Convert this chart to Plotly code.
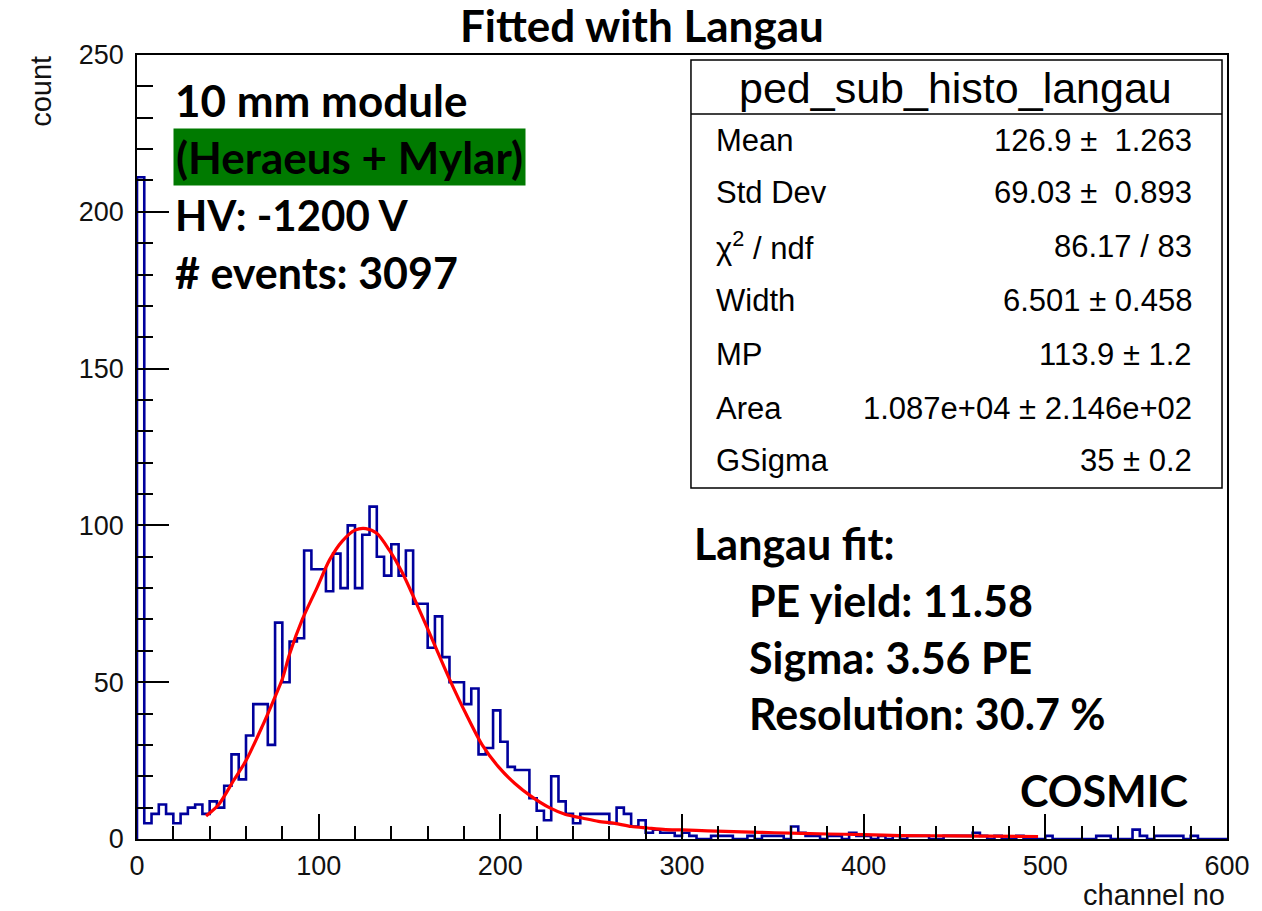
import numpy as np
import plotly.graph_objects as go

# ---------------- data ----------------
bin_width = 4
counts = [
    211, 5, 8, 11, 8, 5, 8, 10, 11, 8,
    12, 10, 17, 27, 19, 33, 43, 43, 30, 69,
    50, 63, 64, 92, 86, 86, 79, 91, 80, 100,
    80, 97, 106, 90, 84, 94, 84, 92, 75, 75,
    61, 71, 58, 50, 50, 43, 48, 27, 29, 41,
    31, 23, 22, 22, 13, 9, 6, 20, 12, 8,
    5, 8, 8, 8, 8, 5, 10, 8, 4, 6,
    2, 3, 2, 2, 1, 2, 1, 0, 0, 1,
    1, 1, 0, 0, 1, 0, 1, 1, 1, 0,
    4, 2, 1, 1, 0, 1, 1, 0, 2, 1,
    1, 0, 1, 0, 1, 0, 1, 1, 1, 0,
    0, 1, 1, 1, 1, 2, 1, 0, 1, 0,
    0, 1, 0, 0, 0, 1, 0, 0, 0, 0,
    0, 0, 1, 1, 0, 0, 0, 3, 1, 0,
    1, 1, 1, 1, 0, 1, 0, 0, 0, 0,
]

fit_x = [38, 45, 53, 60, 69, 75, 80, 84, 91, 99, 106, 113, 120, 126, 132, 139,
         146, 152, 160, 172, 181, 190, 199, 208, 217, 227, 236, 245, 254, 263,
         272, 281, 291, 300, 314, 333, 351, 380, 400, 420, 450, 496]
fit_y = [7.3, 11, 18.5, 25, 36, 44, 51, 59, 70, 80, 89, 95, 98.5, 99, 97.5, 92,
         85, 77.5, 67, 51, 40, 30, 23, 17.7, 13.6, 10, 7.8, 6.7, 5.6, 5,
         4, 3.5, 3, 2.9, 2.6, 2.3, 2, 1.6, 1.4, 1.1, 1.0, 0.8]

stats_title = "ped_sub_histo_langau"
stats_names = ["Mean", "Std Dev", "\u03c7<sup>2</sup> / ndf", "Width", "MP", "Area", "GSigma"]
stats_values = ["126.9 \u00b1\u00a0 1.263", "69.03 \u00b1\u00a0 0.893", "86.17 / 83",
                "6.501 \u00b1 0.458", "113.9 \u00b1 1.2", "1.087e+04 \u00b1 2.146e+02",
                "35 \u00b1 0.2"]

left_notes = ["10 mm module", "(Heraeus + Mylar)", "HV: -1200 V", "# events: 3097"]
fit_notes_head = "Langau fit:"
fit_notes = ["PE yield: 11.58", "Sigma: 3.56 PE", "Resolution: 30.7 %"]

# ---------------- geometry helpers (pixels -> paper) ----------------
W, H = 1262, 911
L, R, T, B = 137, 1231, 55, 839


def px(x):
    return (x - L) / (R - L)


def py(y):
    return (B - y) / (B - T)


n = len(counts)
edges = np.arange(n + 1) * bin_width
hx = np.concatenate([[0], edges])
hy = np.concatenate([[0], counts, [0]])

fig = go.Figure()
fig.add_trace(go.Scatter(x=hx, y=hy, mode="lines", line=dict(color="#00009c", width=2.6, shape="hv"),
                         showlegend=False, hoverinfo="skip"))
fig.add_trace(go.Scatter(x=fit_x, y=fit_y, mode="lines",
                         line=dict(color="#ff0000", width=3.2, shape="spline", smoothing=0.8),
                         showlegend=False, hoverinfo="skip"))

tick_font = dict(family="Liberation Sans, Arial, sans-serif", size=27, color="#111111")
fig.update_xaxes(range=[0, 600], dtick=100, tick0=0, ticks="inside", ticklen=25, tickwidth=1.5,
                 tickcolor="black", showline=True, linecolor="black", linewidth=1.5, mirror=True,
                 showgrid=False, zeroline=False, tickfont=tick_font, ticklabelstandoff=2,
                 minor=dict(dtick=20, ticks="inside", ticklen=13, tickwidth=1.5, tickcolor="black", showgrid=False))
fig.update_yaxes(range=[0, 250], dtick=50, tick0=0, ticks="inside", ticklen=32, tickwidth=1.5,
                 tickcolor="black", showline=True, linecolor="black", linewidth=1.5, mirror=True,
                 showgrid=False, zeroline=False, tickfont=tick_font, ticklabelstandoff=6,
                 minor=dict(dtick=10, ticks="inside", ticklen=16, tickwidth=1.5, tickcolor="black", showgrid=False))

ann = []
shapes = []
bold_font = "Lato, 'Open Sans', sans-serif"
helv = "Liberation Sans, Arial, sans-serif"

# Title
ann.append(dict(x=px(644), y=py(25), xref="paper", yref="paper", text="<b>Fitted with Langau</b>",
                showarrow=False, xanchor="center", yanchor="middle",
                font=dict(family=bold_font, size=44, color="black")))
# Axis titles
ann.append(dict(x=px(40), y=py(54), xref="paper", yref="paper", text="count", textangle=-90,
                showarrow=False, xanchor="center", yanchor="top",
                font=dict(family=helv, size=29, color="#111111")))
ann.append(dict(x=px(1231), y=py(895), xref="paper", yref="paper", text="channel no",
                showarrow=False, xanchor="right", yanchor="middle",
                font=dict(family=helv, size=29, color="#111111")))

# Left notes
left_y = [100, 157, 215, 272]
left_sizes = [44, 44, 42, 43]
for txt, yy, fs in zip(left_notes, left_y, left_sizes):
    d = dict(x=px(173), y=py(yy), xref="paper", yref="paper", text="<b>%s</b>" % txt,
             showarrow=False, xanchor="left", yanchor="middle",
             font=dict(family=bold_font, size=fs, color="black"))
    if txt.startswith("(Heraeus"):
        d["bgcolor"] = "#007a00"
        d["borderpad"] = 2
    ann.append(d)

# Fit notes
ann.append(dict(x=px(694), y=py(543), xref="paper", yref="paper", text="<b>%s</b>" % fit_notes_head,
                showarrow=False, xanchor="left", yanchor="middle",
                font=dict(family=bold_font, size=43, color="black")))
for txt, yy in zip(fit_notes, [600, 657, 713]):
    ann.append(dict(x=px(749), y=py(yy), xref="paper", yref="paper", text="<b>%s</b>" % txt,
                    showarrow=False, xanchor="left", yanchor="middle",
                    font=dict(family=bold_font, size=43, color="black")))
ann.append(dict(x=px(1194), y=py(790), xref="paper", yref="paper", text="<b>COSMIC</b>",
                showarrow=False, xanchor="right", yanchor="middle",
                font=dict(family=bold_font, size=43, color="black")))

# Stats box
shapes.append(dict(type="rect", xref="paper", yref="paper", x0=px(693), x1=px(1226), y0=py(488), y1=py(60),
                   line=dict(color="black", width=1.5), fillcolor="white", layer="above"))
shapes.append(dict(type="line", xref="paper", yref="paper", x0=px(693), x1=px(1226), y0=py(114), y1=py(114),
                   line=dict(color="black", width=1.5), layer="above"))
ann.append(dict(x=px(959), y=py(88), xref="paper", yref="paper", text=stats_title,
                showarrow=False, xanchor="center", yanchor="middle",
                font=dict(family=helv, size=43, color="black")))
row_y = [140, 193, 246, 300, 354, 408, 461]
for name, val, yy in zip(stats_names, stats_values, row_y):
    ann.append(dict(x=px(716), y=py(yy), xref="paper", yref="paper", text=name,
                    showarrow=False, xanchor="left", yanchor="middle",
                    font=dict(family=helv, size=31, color="black")))
    ann.append(dict(x=px(1198), y=py(yy), xref="paper", yref="paper", text=val,
                    showarrow=False, xanchor="right", yanchor="middle",
                    font=dict(family=helv, size=31, color="black")))

fig.update_layout(width=W, height=H, margin=dict(l=L, r=W - R, t=T, b=H - B, pad=0),
                  paper_bgcolor="white", plot_bgcolor="white", annotations=ann, shapes=shapes,
                  showlegend=False)

fig.write_html("out.html")
